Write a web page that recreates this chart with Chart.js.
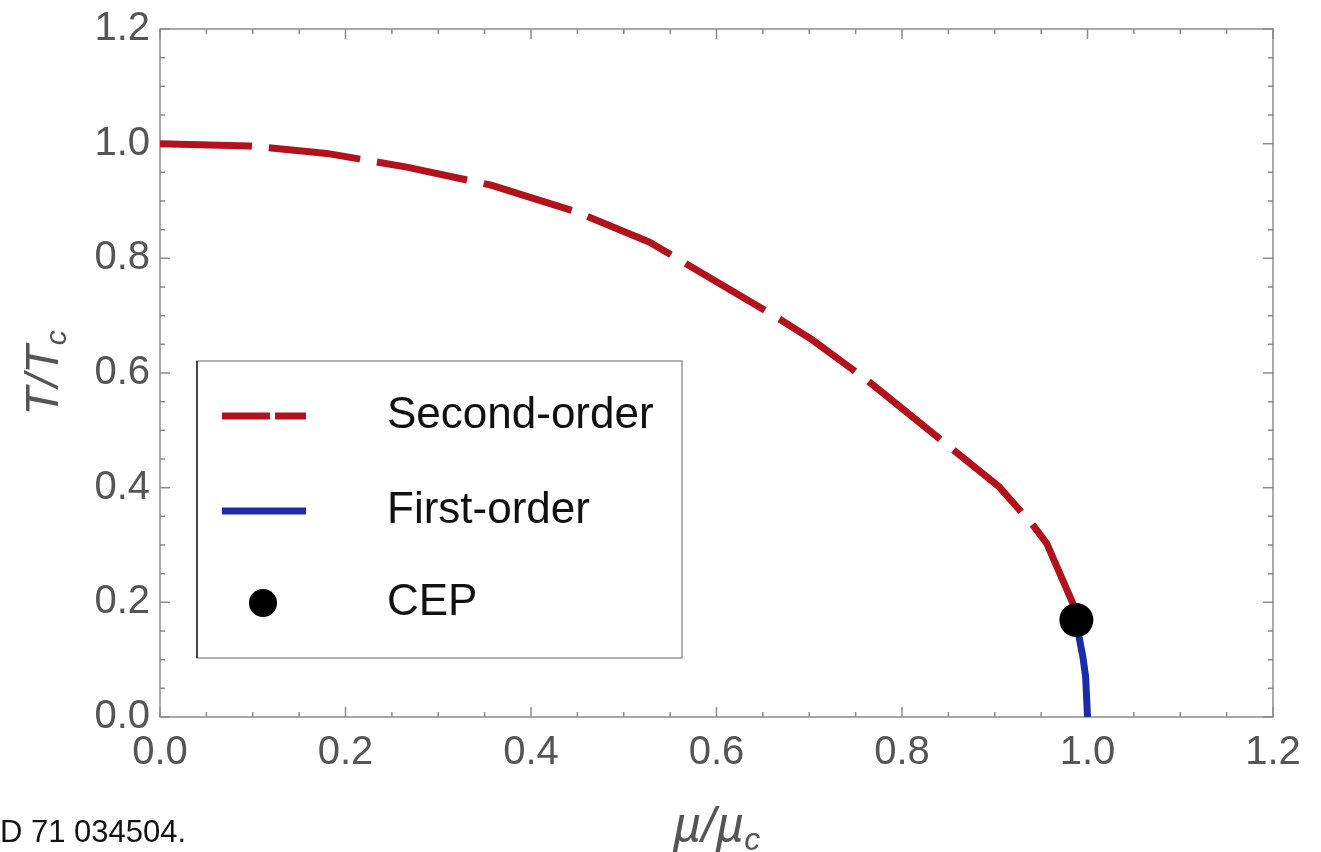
<!DOCTYPE html>
<html>
<head>
<meta charset="utf-8">
<script src="https://cdn.jsdelivr.net/npm/chart.js@4.4.1/dist/chart.umd.min.js"></script>
<style>
  html, body { margin: 0; padding: 0; background: #fff; }
  canvas { display: block; }
</style>
</head>
<body>
<canvas id="phaseChart" width="1321" height="852"></canvas>
<script>
// second-order line (mu/mu_c, T/T_c)
const secondMu = [0.0, 0.097, 0.180, 0.266, 0.356, 0.449, 0.528, 0.661, 0.704, 0.762, 0.853, 0.905, 0.941, 0.956, 0.984, 0.988];
const secondT  = [1.0, 0.996, 0.983, 0.959, 0.928, 0.881, 0.828, 0.701, 0.657, 0.588, 0.469, 0.401, 0.335, 0.303, 0.199, 0.169];

// first-order line, CEP down to the axis
const firstMu = [0.988, 0.991, 0.995, 0.998, 1.0];
const firstT  = [0.169, 0.139, 0.105, 0.070, 0.0];

// critical end point
const cepMu = [0.988];
const cepT  = [0.169];

// axis ticks
const majorTicks = [0.0, 0.2, 0.4, 0.6, 0.8, 1.0, 1.2];
const minorStep = 0.05;

const legendLabels = ['Second-order', 'First-order', 'CEP'];

const RED = '#b3111c';
const BLUE = '#1a2ca6';
const FONT = '"Liberation Sans", Arial, Helvetica, sans-serif';

function toPoints(xs, ys) {
    return xs.map((x, i) => ({ x: x, y: ys[i] }));
}

// frame with inward ticks on all four sides, Mathematica style
const frameTicks = {
    id: 'frameTicks',
    beforeDatasetsDraw(chart) {
        const { ctx, chartArea: a, scales } = chart;
        const xs = scales.x, ys = scales.y;
        ctx.save();
        ctx.strokeStyle = '#8c8c8c';
        ctx.lineWidth = 1.5;
        ctx.strokeRect(a.left, a.top, a.right - a.left, a.bottom - a.top);

        const lo = majorTicks[0], hi = majorTicks[majorTicks.length - 1];
        const n = Math.round((hi - lo) / minorStep);
        ctx.beginPath();
        for (let i = 0; i <= n; i++) {
            const v = lo + i * minorStep;
            const major = majorTicks.some(m => Math.abs(m - v) < 1e-6);
            const len = major ? 10 : 5;
            const px = xs.getPixelForValue(v);
            ctx.moveTo(px, a.bottom); ctx.lineTo(px, a.bottom - len);
            ctx.moveTo(px, a.top); ctx.lineTo(px, a.top + len);
            const py = ys.getPixelForValue(v);
            ctx.moveTo(a.left, py); ctx.lineTo(a.left + len, py);
            ctx.moveTo(a.right, py); ctx.lineTo(a.right - len, py);
        }
        ctx.stroke();
        ctx.restore();
    },
    afterDraw(chart) {
        const { ctx, chartArea: a } = chart;
        ctx.save();
        ctx.fillStyle = '#555';

        // x title: mu/mu_c
        const cx = (a.left + a.right) / 2;
        ctx.font = 'italic 50px ' + FONT;
        const main = '\u00b5/\u00b5';
        const w1 = ctx.measureText(main).width;
        ctx.font = 'italic 32px ' + FONT;
        const w2 = ctx.measureText('c').width;
        let x0 = cx - (w1 + w2) / 2;
        ctx.textBaseline = 'alphabetic';
        ctx.textAlign = 'left';
        ctx.font = 'italic 50px ' + FONT;
        ctx.fillText(main, x0, 842);
        ctx.font = 'italic 32px ' + FONT;
        ctx.fillText('c', x0 + w1, 850);

        // y title: T/T_c, rotated
        ctx.save();
        ctx.translate(58, (a.top + a.bottom) / 2);
        ctx.rotate(-Math.PI / 2);
        ctx.font = 'italic 47px ' + FONT;
        const t1 = ctx.measureText('T/T').width;
        ctx.font = 'italic 30px ' + FONT;
        const t2 = ctx.measureText('c').width;
        const s = -(t1 + t2) / 2;
        ctx.font = 'italic 47px ' + FONT;
        ctx.fillText('T/T', s, 0);
        ctx.font = 'italic 30px ' + FONT;
        ctx.fillText('c', s + t1, 8);
        ctx.restore();

        // caption fragment bottom-left
        ctx.fillStyle = '#111';
        ctx.font = '31px ' + FONT;
        ctx.fillText('D 71 034504.', 0, 842);
        ctx.restore();
    }
};

// legend box inside the plot
const boxLegend = {
    id: 'boxLegend',
    afterDraw(chart) {
        const { ctx } = chart;
        const L = 197, T = 361, R = 682, B = 658;
        ctx.save();
        ctx.fillStyle = '#fff';
        ctx.fillRect(L, T, R - L, B - T);
        ctx.strokeStyle = '#9a9a9a';
        ctx.lineWidth = 1.5;
        ctx.strokeRect(L, T, R - L, B - T);
        ctx.strokeStyle = '#222';
        ctx.beginPath();
        ctx.moveTo(L, T); ctx.lineTo(L, B);
        ctx.stroke();

        const rows = [416, 511, 603];
        ctx.lineWidth = 7;
        ctx.lineCap = 'butt';

        ctx.strokeStyle = RED;
        ctx.setLineDash([48, 5]);
        ctx.beginPath(); ctx.moveTo(222, rows[0]); ctx.lineTo(306, rows[0]); ctx.stroke();

        ctx.setLineDash([]);
        ctx.strokeStyle = BLUE;
        ctx.beginPath(); ctx.moveTo(222, rows[1]); ctx.lineTo(306, rows[1]); ctx.stroke();

        ctx.fillStyle = '#000';
        ctx.beginPath(); ctx.arc(263, rows[2], 14, 0, Math.PI * 2); ctx.fill();

        ctx.fillStyle = '#111';
        ctx.font = '44px ' + FONT;
        ctx.textBaseline = 'middle';
        legendLabels.forEach((txt, i) => ctx.fillText(txt, 387, rows[i]));
        ctx.restore();
    }
};

const ctx = document.getElementById('phaseChart').getContext('2d');
new Chart(ctx, {
    type: 'scatter',
    data: {
        datasets: [
            {
                label: legendLabels[0],
                data: toPoints(secondMu, secondT),
                showLine: true,
                borderColor: RED,
                borderWidth: 7,
                borderDash: [92, 17],
                borderCapStyle: 'butt',
                borderJoinStyle: 'round',
                pointRadius: 0,
                tension: 0,
                order: 2
            },
            {
                label: legendLabels[1],
                data: toPoints(firstMu, firstT),
                showLine: true,
                borderColor: BLUE,
                borderWidth: 7,
                pointRadius: 0,
                tension: 0,
                order: 1
            },
            {
                label: legendLabels[2],
                data: toPoints(cepMu, cepT),
                backgroundColor: '#000',
                borderWidth: 0,
                pointRadius: 17,
                pointHoverRadius: 17,
                order: 0
            }
        ]
    },
    options: {
        responsive: false,
        animation: false,
        events: [],
        layout: { padding: { top: 29, right: 48, left: 0, bottom: 0 } },
        plugins: {
            legend: { display: false },
            tooltip: { enabled: false }
        },
        scales: {
            x: {
                type: 'linear',
                min: 0,
                max: 1.2,
                afterFit(scale) {
                    scale.height = 135;
                    scale.paddingLeft = 0;
                    scale.paddingRight = 0;
                },
                afterBuildTicks(scale) { scale.ticks = majorTicks.map(v => ({ value: v })); },
                grid: { display: false, drawTicks: false },
                border: { display: false },
                ticks: {
                    color: '#555',
                    padding: 12,
                    font: { family: FONT, size: 40 },
                    callback: v => Number(v).toFixed(1)
                }
            },
            y: {
                type: 'linear',
                min: 0,
                max: 1.2,
                afterFit(scale) {
                    scale.width = 160;
                    scale.paddingTop = 0;
                    scale.paddingBottom = 0;
                },
                afterBuildTicks(scale) { scale.ticks = majorTicks.map(v => ({ value: v })); },
                grid: { display: false, drawTicks: false },
                border: { display: false },
                ticks: {
                    color: '#555',
                    padding: 10,
                    font: { family: FONT, size: 40 },
                    callback: v => Number(v).toFixed(1)
                }
            }
        }
    },
    plugins: [frameTicks, boxLegend]
});
</script>
</body>
</html>
